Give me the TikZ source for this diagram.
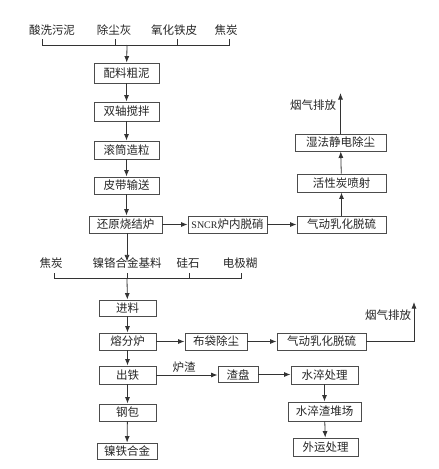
\documentclass[tikz,border=0pt]{standalone}
\usepackage{fontspec}
\newfontfamily\cjk{Noto Sans CJK SC}
\newfontfamily\latinfont{Liberation Serif}
\usetikzlibrary{arrows.meta}
\begin{document}
\begin{tikzpicture}[x=1pt,y=-1pt,
  every node/.style={font=\cjk\fontsize{11.5}{13}\selectfont, text=black!85, inner sep=0pt},
  box/.style={draw=black!70, line width=0.9pt, minimum height=18pt, fill=white},
  lbl/.style={},
  conn/.style={draw=black!80, line width=0.8pt},
  arr/.style={conn, -{Latex[length=6.5pt,width=5pt]}}]
\useasboundingbox[fill=white] (0,0) rectangle (439,469);

% top raw materials
\node[lbl] (t1) at (52,30) {酸洗污泥};
\node[lbl] (t2) at (114,30) {除尘灰};
\node[lbl] (t3) at (174,30) {氧化铁皮};
\node[lbl] (t4) at (226,30) {焦炭};
\coordinate (b1a) at (42,39); \coordinate (b1b) at (42,45);
\coordinate (b2a) at (115,39); \coordinate (b2b) at (115,45);
\coordinate (b3a) at (177,39); \coordinate (b3b) at (177,45);
\coordinate (b4a) at (229,39); \coordinate (b4b) at (229,45);
\coordinate (bm) at (127,45);
\draw[conn] (b1a) -- (b1b) -- (b4b) -- (b4a);
\draw[conn] (b2a) -- (b2b);
\draw[conn] (b3a) -- (b3b);

% main chain 1
\node[box, minimum width=65pt, minimum height=20pt] (peiliao) at (126.5,73) {配料粗泥};
\node[box, minimum width=65pt, minimum height=19pt] (shuang) at (126.5,111.5) {双轴搅拌};
\node[box, minimum width=65pt] (gun) at (126.5,150) {滚筒造粒};
\node[box, minimum width=65pt, minimum height=17pt] (pidai) at (126.5,185.5) {皮带输送};
\node[box, minimum width=73pt, minimum height=17pt] (huan) at (125.5,224.5) {还原烧结炉};
\node[box, minimum width=79pt, minimum height=17pt] (sncr) at (227.5,224.5) {{\latinfont\fontsize{10}{12}\selectfont SNCR}炉内脱硝};
\node[box, minimum width=89pt, minimum height=17pt] (qd1) at (341.5,224.5) {气动乳化脱硫};
\node[box, minimum width=89pt] (huox) at (341.5,183) {活性炭喷射};
\node[box, minimum width=91pt, minimum height=17pt] (shifa) at (340.5,142.5) {湿法静电除尘};
\coordinate (ex1) at (340.5,93);
\node[lbl] (yq1) at (313,105) {烟气排放};

\draw[arr] (bm) -- (peiliao);
\draw[arr] (peiliao) -- (shuang);
\draw[arr] (shuang) -- (gun);
\draw[arr] (gun) -- (pidai);
\draw[arr] (pidai) -- (huan.north -| pidai.south);
\draw[arr] (huan) -- (sncr);
\draw[arr] (sncr) -- (qd1);
\draw[arr] (qd1) -- (huox);
\draw[arr] (huox) -- (shifa);
\draw[arr] (shifa) -- (ex1);

% second materials
\node[lbl] (m1) at (51,263) {焦炭};
\node[lbl] (m2) at (127,263) {镍铬合金基料};
\node[lbl] (m3) at (188,263) {硅石};
\node[lbl] (m4) at (240,263) {电极糊};
\draw[arr] (huan.south -| m2.north) -- ([yshift=-4pt]m2.north);
\coordinate (c1a) at (54,273); \coordinate (c1b) at (54,278);
\coordinate (c2a) at (127,273); \coordinate (c2b) at (127,278);
\coordinate (c3a) at (189,273); \coordinate (c3b) at (189,278);
\coordinate (c4a) at (241,273); \coordinate (c4b) at (241,278);
\draw[conn] (c1a) -- (c1b) -- (c4b) -- (c4a);
\draw[conn] (c2a) -- (c2b);
\draw[conn] (c3a) -- (c3b);

% main chain 2
\node[box, minimum width=57pt, minimum height=16pt] (jin) at (127.5,308) {进料};
\node[box, minimum width=57pt, minimum height=17pt] (rong) at (127.5,341.5) {熔分炉};
\node[box, minimum width=62pt, minimum height=17pt] (budai) at (216,341.5) {布袋除尘};
\node[box, minimum width=89pt, minimum height=17pt] (qd2) at (321.5,341.5) {气动乳化脱硫};
\coordinate (corner) at (414,341.5);
\coordinate (ex2) at (414,302);
\node[lbl] (yq2) at (388,315) {烟气排放};
\node[box, minimum width=57pt] (chu) at (127.5,375) {出铁};
\node[lbl] (luzha) at (184,367) {炉渣};
\node[box, minimum width=40pt, minimum height=16pt] (zhapan) at (238,374.5) {渣盘};
\node[box, minimum width=67pt] (shuicui) at (324.5,375) {水淬处理};
\node[box, minimum width=73pt, minimum height=19pt] (dui) at (324.5,411.5) {水淬渣堆场};
\node[box, minimum width=65pt] (wai) at (325.5,447) {外运处理};
\node[box, minimum width=57pt, minimum height=17pt] (gang) at (127.5,412.5) {钢包};
\node[box, minimum width=60pt, minimum height=16pt] (nie) at (127,451) {镍铁合金};

\draw[arr] (c2b) -- (jin);
\draw[arr] (jin) -- (rong);
\draw[arr] (rong) -- (budai);
\draw[arr] (budai) -- (qd2);
\draw[arr] (qd2) -- (corner) -- (ex2);
\draw[arr] (rong) -- (chu);
\draw[arr] (chu.east) -- (zhapan.west |- chu.east);
\draw[arr] (zhapan) -- (shuicui.west |- zhapan.east);
\draw[arr] (shuicui) -- (dui);
\draw[arr] (dui) -- (wai);
\draw[arr] (chu) -- (gang);
\draw[arr] (gang) -- (nie);
\end{tikzpicture}
\end{document}
